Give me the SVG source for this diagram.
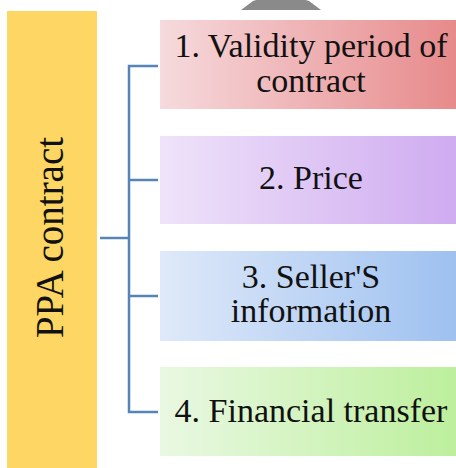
<svg xmlns="http://www.w3.org/2000/svg" width="456" height="468" viewBox="0 0 456 468">
  <style>
    .lbl { font-family: 'Liberation Serif', 'Times New Roman', serif; font-size: 34px; fill: #111; text-anchor: middle; }
    .root-lbl { font-size: 39px; }
    .conn { fill: none; stroke: #5584b6; stroke-width: 2.5; }
  </style>
  <defs>
    <linearGradient id="gRed" x1="0" y1="0" x2="1" y2="0">
      <stop offset="0" stop-color="#f6dadd"/>
      <stop offset="1" stop-color="#e78a8b"/>
    </linearGradient>
    <linearGradient id="gPurple" x1="0" y1="0" x2="1" y2="0">
      <stop offset="0" stop-color="#efe3fa"/>
      <stop offset="1" stop-color="#cfabf0"/>
    </linearGradient>
    <linearGradient id="gBlue" x1="0" y1="0" x2="1" y2="0">
      <stop offset="0" stop-color="#dfe9f9"/>
      <stop offset="1" stop-color="#9ec1f0"/>
    </linearGradient>
    <linearGradient id="gGreen" x1="0" y1="0" x2="1" y2="0">
      <stop offset="0" stop-color="#e9f8e2"/>
      <stop offset="1" stop-color="#bdef9d"/>
    </linearGradient>
  </defs>

  <rect width="456" height="468" fill="#ffffff"/>

  <!-- grey shape clipped at the top edge -->
  <path d="M241,10 L321,10 L309,1 Q281,-8 253,1 Z" fill="#8a8a8a"/>

  <g id="root">
    <rect x="7" y="11" width="90" height="460" fill="#fdd663"/>
    <text class="lbl root-lbl" transform="translate(63,237.5) rotate(-90)">PPA contract</text>
  </g>

  <g id="connectors">
    <path class="conn" d="M100,238 H129"/>
    <path class="conn" d="M158,66 H129 V412 H158"/>
    <path class="conn" d="M129,180 H158"/>
    <path class="conn" d="M129,296 H158"/>
  </g>

  <g id="item1">
    <rect x="160" y="20" width="296" height="89" fill="url(#gRed)"/>
    <text class="lbl" x="311" y="57">1. Validity period of</text>
    <text class="lbl" x="311" y="92">contract</text>
  </g>

  <g id="item2">
    <rect x="160" y="136" width="296" height="88" fill="url(#gPurple)"/>
    <text class="lbl" x="311" y="188.5">2. Price</text>
  </g>

  <g id="item3">
    <rect x="160" y="251" width="296" height="90" fill="url(#gBlue)"/>
    <text class="lbl" x="311" y="288">3. Seller'S</text>
    <text class="lbl" x="311" y="322">information</text>
  </g>

  <g id="item4">
    <rect x="160" y="367" width="296" height="89" fill="url(#gGreen)"/>
    <text class="lbl" x="311" y="422">4. Financial transfer</text>
  </g>
</svg>
